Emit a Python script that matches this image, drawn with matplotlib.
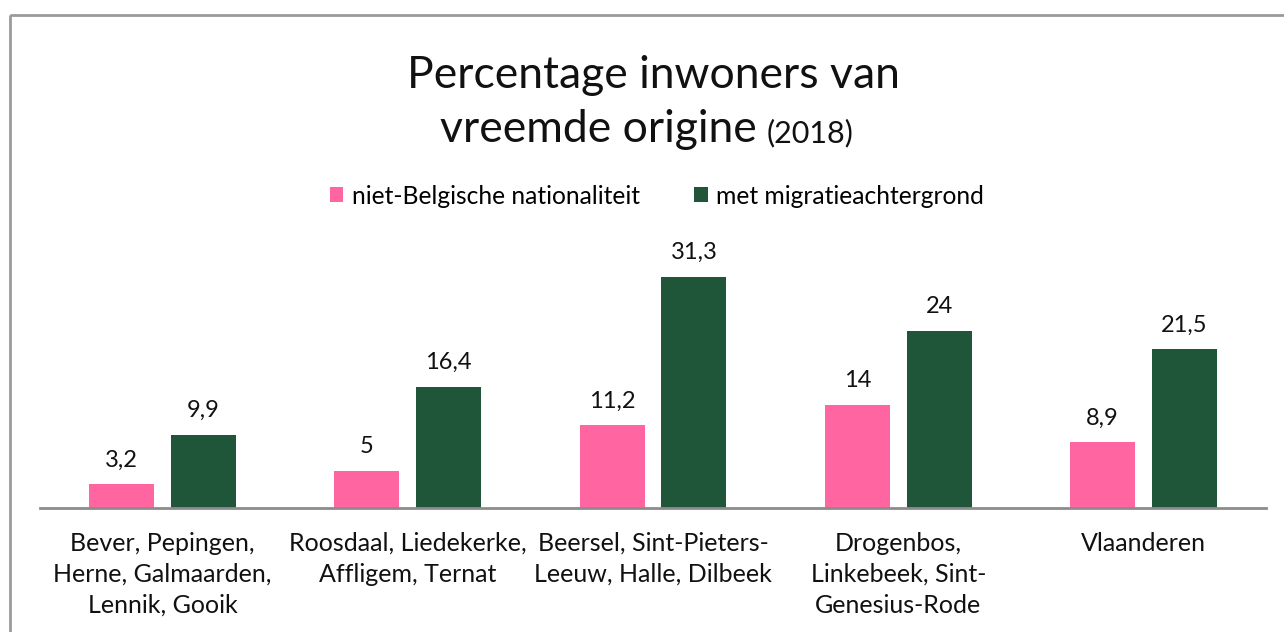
import matplotlib.pyplot as plt
import matplotlib.patches as mpatches
import numpy as np

plt.rcParams['font.family'] = ['Lato', 'DejaVu Sans']

# data
categories = ['Bever, Pepingen,\nHerne, Galmaarden,\nLennik, Gooik',
              'Roosdaal, Liedekerke,\nAffligem, Ternat',
              'Beersel, Sint-Pieters-\nLeeuw, Halle, Dilbeek',
              'Drogenbos,\nLinkebeek, Sint-\nGenesius-Rode',
              'Vlaanderen']
niet_belgisch = [3.2, 5, 11.2, 14, 8.9]
migratie = [9.9, 16.4, 31.3, 24, 21.5]
series_names = ['niet-Belgische nationaliteit', 'met migratieachtergrond']

pink = '#ff66a1'
green = '#1f5538'

W, H = 1284, 632
fig = plt.figure(figsize=(W / 100, H / 100), dpi=100)

# outer frame (runs off the right/bottom edge like the screenshot)
frame = mpatches.Rectangle((10 / W, 1 - 15 / H), 1.2, -1.2, transform=fig.transFigure,
                           fill=False, edgecolor='#9a9a9a', linewidth=2)
fig.patches.append(frame)

ax = fig.add_axes([40 / W, 1 - 508 / H, 1226 / W, 278 / H])
x = np.arange(len(categories))
off = 0.167
bw = 0.265
b1 = ax.bar(x - off, niet_belgisch, bw, color=pink, label=series_names[0])
b2 = ax.bar(x + off, migratie, bw, color=green, label=series_names[1])

def fmt(v):
    return ('%g' % v).replace('.', ',')

for bars, vals in [(b1, niet_belgisch), (b2, migratie)]:
    for b, v in zip(bars, vals):
        ax.annotate(fmt(v), (b.get_x() + b.get_width() / 2, v), xytext=(0, 10),
                    textcoords='offset points', ha='center', va='bottom', fontsize=17,
                    color='#111111')

ax.set_xlim(-0.5, 4.5)
ax.set_ylim(0, 37.7)
ax.set_xticks(x)
ax.set_xticklabels(categories, fontsize=18, linespacing=1.42, color='#111111')
ax.tick_params(axis='x', length=0, pad=17)
ax.set_yticks([])
for s in ['top', 'right', 'left']:
    ax.spines[s].set_visible(False)
ax.spines['bottom'].set_color('#8c8c8c')
ax.spines['bottom'].set_linewidth(2)

# title
fig.text(653 / W, 1 - 88 / H, 'Percentage inwoners van', ha='center', va='baseline',
         fontsize=32, color='#111111')
fig.text(757 / W, 1 - 142 / H, 'vreemde origine', ha='right', va='baseline',
         fontsize=32, color='#111111')
fig.text(767 / W, 1 - 142 / H, '(2018)', ha='left', va='baseline',
         fontsize=22, color='#111111')

fig.legend(handles=[b1, b2], loc='center', bbox_to_anchor=(657 / W, 1 - 196 / H), ncol=2,
           frameon=False, fontsize=17.7, handlelength=0.55, handleheight=0.55,
           handletextpad=0.35, columnspacing=2.2)

plt.savefig('out.png', dpi=100)
